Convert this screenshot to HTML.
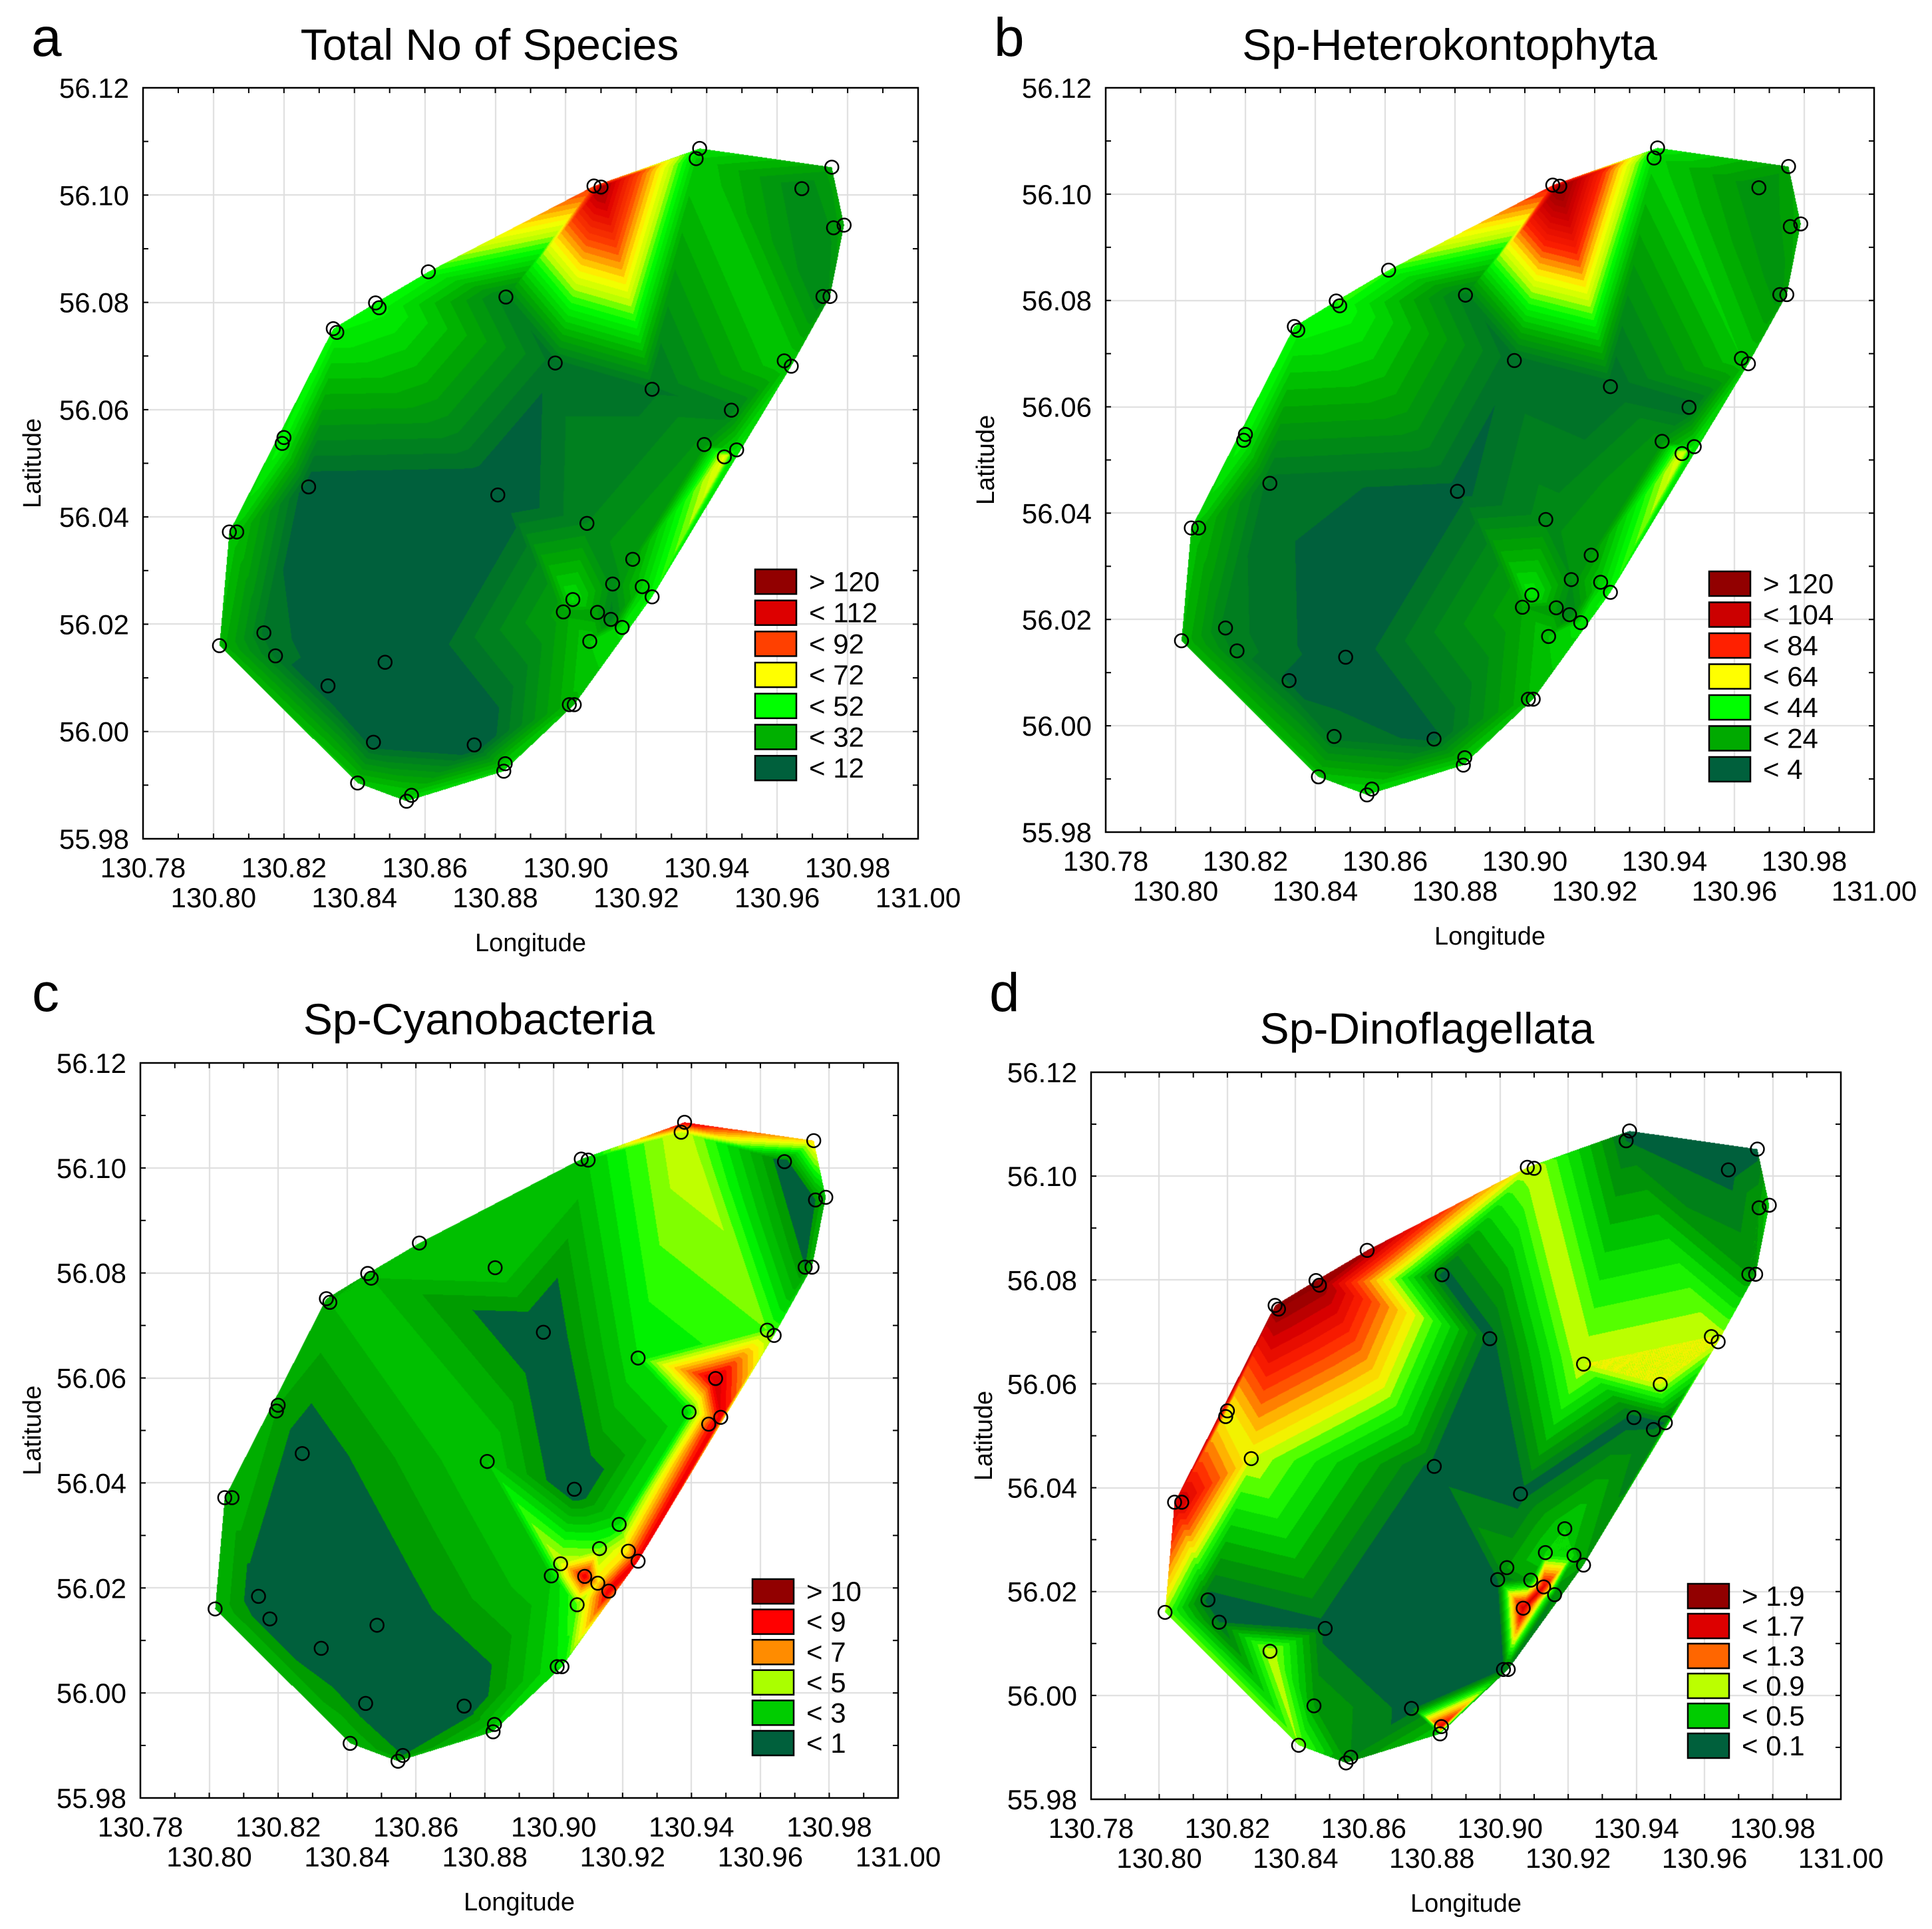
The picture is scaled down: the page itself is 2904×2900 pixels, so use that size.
<!DOCTYPE html>
<html><head><meta charset="utf-8">
<style>
html,body{margin:0;padding:0;background:#fff;}
#wrap{position:relative;width:2904px;height:2900px;overflow:hidden;font-family:"Liberation Sans",Arial,sans-serif;}
canvas{position:absolute;}
#ov{position:absolute;left:0;top:0;}
</style></head>
<body>
<div id="wrap">
<svg id="ov" width="2904" height="2900" xmlns="http://www.w3.org/2000/svg"></svg>
</div>
<script>
// ---- station data ----
const stationLon = [130.938,130.937,130.9755,130.967,130.908,130.910,130.976,130.979,130.861,130.883,
130.846,130.847,130.834,130.835,130.973,130.975,130.897,130.962,130.964,130.9245,
130.947,130.820,130.8195,130.9393,130.945,130.9485,130.827,130.8807,130.8045,130.8066,
130.906,130.919,130.9133,130.9217,130.9245,130.902,130.8993,130.909,130.9128,130.916,
130.9068,130.8017,130.8143,130.8176,130.8487,130.8325,130.901,130.9024,130.8454,130.874,
130.8828,130.8824,130.8409,130.8562,130.8548];
const stationLat = [56.1087,56.1068,56.1052,56.1012,56.1017,56.1015,56.0939,56.0944,56.0857,56.0810,
56.0799,56.0790,56.0751,56.0744,56.0811,56.0811,56.0687,56.0691,56.0681,56.0638,
56.0599,56.0548,56.0537,56.0535,56.0512,56.0525,56.0456,56.0441,56.0372,56.0372,
56.0388,56.0321,56.0275,56.0270,56.0251,56.0246,56.0223,56.0222,56.0209,56.0194,
56.0168,56.0160,56.0184,56.0141,56.0129,56.0085,56.0050,56.0050,55.9980,55.9975,
55.9940,55.9926,55.9904,55.9881,55.9870];
const totalSpecies = [45,40,30,20,95,125,25,32,52,18,
50,50,50,48,20,25,14,40,40,15,
18,50,50,25,70,45,8,5,40,38,
20,28,22,40,50,45,30,28,18,45,
40,35,15,15,2,5,35,35,8,5,
40,42,38,40,40];
const heteroSpecies = [40,34,22,16,88,125,22,28,45,10,
44,44,44,42,18,22,5,32,32,4,
5,42,42,18,60,38,6,2,32,30,
14,20,16,34,42,40,24,20,12,38,
32,28,10,10,0,3,28,28,6,3,
32,35,30,34,34];
const cyanoSpecies = [9,5,6,0.5,2,2.5,1,2,2,2.5,
2,2,1.5,2,1,2,0.3,4,4,3,
9.5,1.5,1.5,3,8,9,0.5,2.5,2,2,
0.3,3,4,6,9,5,2.5,9,6,9,
4,2,0.5,0.5,0.3,0.3,3,3,0.5,0.3,
2.5,2.5,2,1,2];
const dinoSpecies = [0.05,0.1,0.05,0.05,0.9,0.9,0.3,0.5,1.95,0.05,
2.0,2.0,2.0,2.0,0.3,0.3,0.05,0.9,0.9,0.9,
0.9,0.95,0.95,0.05,0.1,0.1,0.9,0.05,1.8,1.8,
0.05,0.5,0.5,0.5,0.3,0.3,0.1,0.3,1.7,0.2,
1.8,0.8,0.05,0.1,0.05,0.9,0.1,0.1,0.3,0.05,
1.7,0.5,0.8,0.2,0.2];
// legend labels
const legendA = ["> 120","< 112","< 92","< 72","< 52","< 32","< 12"];
const legendB = ["> 120","< 104","< 84","< 64","< 44","< 24","< 4"];
const legendC = ["> 10","< 9","< 7","< 5","< 3","< 1"];
const legendD = ["> 1.9","< 1.7","< 1.3","< 0.9","< 0.5","< 0.1"];
const xTicks = [130.78,130.80,130.82,130.84,130.86,130.88,130.90,130.92,130.94,130.96,130.98,131.00];
const yTicks = [55.98,56.00,56.02,56.04,56.06,56.08,56.10,56.12];

const NS="http://www.w3.org/2000/svg";
const svg=document.getElementById('ov');
const wrap=document.getElementById('wrap');
function mk(tag,attrs,parent){const e=document.createElementNS(NS,tag);for(const k in attrs)e.setAttribute(k,attrs[k]);(parent||svg).appendChild(e);return e;}
function hex(c){return [parseInt(c.substr(1,2),16),parseInt(c.substr(3,2),16),parseInt(c.substr(5,2),16)];}

const panels=[
 {id:'a',title:'Total No of Species',vals:totalSpecies,leg:legendA,
  legCols:['#920000','#dd0000','#ff4000','#ffff00','#00ff00','#00b000','#00603c'],
  L:215,R:1380,T:132,B:1261,letterX:47,letterY:84,titleX:736,titleY:90,latX:48,
  legX:1135,legY:856,legP:46.7,step:4,
  cmap:[[12,'#00603c'],[12.01,'#006e2c'],[32,'#00aa00'],[48,'#00f000'],[52,'#00ff00'],[62,'#bbff00'],[72,'#ffff00'],[92,'#ff4000'],[112,'#e00000'],[126,'#900000']]},
 {id:'b',title:'Sp-Heterokontophyta',vals:heteroSpecies,leg:legendB,
  legCols:['#920000','#cc0000','#ff2000','#ffff00','#00ff00','#00aa00','#00603c'],
  L:1662,R:2817,T:132,B:1251,letterX:1494,letterY:84,titleX:2179,titleY:90,latX:1481,
  legX:2569,legY:859,legP:46.5,step:4,
  cmap:[[4,'#00603c'],[4.01,'#006e2c'],[24,'#00a400'],[44,'#00ff00'],[54,'#bbff00'],[64,'#ffff00'],[84,'#ff2000'],[104,'#d00000'],[124,'#900000']]},
 {id:'c',title:'Sp-Cyanobacteria',vals:cyanoSpecies,leg:legendC,
  legCols:['#920000','#ff0000','#ff8c00','#aaff00','#00cc00','#00603c'],
  L:211,R:1350,T:1598,B:2703,letterX:48,letterY:1520,titleX:720,titleY:1555,latX:48,
  legX:1131,legY:2374,legP:45.6,step:0.5,
  cmap:[[1,'#00603c'],[1.01,'#009400'],[2.5,'#00c800'],[3.5,'#00ff00'],[4.5,'#aaff00'],[5.5,'#ffff00'],[7,'#ff8c00'],[8.5,'#ff0000'],[11,'#900000']]},
 {id:'d',title:'Sp-Dinoflagellata',vals:dinoSpecies,leg:legendD,
  legCols:['#920000','#dd0000','#ff6600','#bbff00','#00cc00','#00603c'],
  L:1640,R:2767,T:1612,B:2705,letterX:1487,letterY:1520,titleX:2145,titleY:1569,latX:1478,
  legX:2537,legY:2381,legP:45,step:0.1,
  cmap:[[0.1,'#00603c'],[0.11,'#007a20'],[0.3,'#009c00'],[0.5,'#00d000'],[0.7,'#22ff00'],[0.9,'#eeff00'],[1.1,'#ffcc00'],[1.3,'#ff6600'],[1.5,'#ff2000'],[1.75,'#d80000'],[2.0,'#900000']]}
];

function delaunay(P){
  const n=P.length;let minx=1e9,miny=1e9,maxx=-1e9,maxy=-1e9;
  P.forEach(p=>{minx=Math.min(minx,p[0]);miny=Math.min(miny,p[1]);maxx=Math.max(maxx,p[0]);maxy=Math.max(maxy,p[1]);});
  const d=Math.max(maxx-minx,maxy-miny)*20,mx=(minx+maxx)/2,my=(miny+maxy)/2;
  const pts=P.concat([[mx-d,my-d],[mx+d,my-d],[mx,my+d]]);
  function cc(t){const a=pts[t[0]],b=pts[t[1]],c=pts[t[2]];
    const D=2*(a[0]*(b[1]-c[1])+b[0]*(c[1]-a[1])+c[0]*(a[1]-b[1]));
    const ux=((a[0]*a[0]+a[1]*a[1])*(b[1]-c[1])+(b[0]*b[0]+b[1]*b[1])*(c[1]-a[1])+(c[0]*c[0]+c[1]*c[1])*(a[1]-b[1]))/D;
    const uy=((a[0]*a[0]+a[1]*a[1])*(c[0]-b[0])+(b[0]*b[0]+b[1]*b[1])*(a[0]-c[0])+(c[0]*c[0]+c[1]*c[1])*(b[0]-a[0]))/D;
    return [ux,uy,(a[0]-ux)**2+(a[1]-uy)**2];}
  let tris=[[n,n+1,n+2]];tris[0].c=cc(tris[0]);
  for(let i=0;i<n;i++){const p=pts[i];const bad=[],good=[];
    tris.forEach(t=>{const c=t.c;((p[0]-c[0])**2+(p[1]-c[1])**2<c[2])?bad.push(t):good.push(t);});
    const edges={};
    bad.forEach(t=>{[[t[0],t[1]],[t[1],t[2]],[t[2],t[0]]].forEach(e=>{const k=Math.min(e[0],e[1])+'_'+Math.max(e[0],e[1]);if(edges[k])edges[k].cnt++;else edges[k]={e:e,cnt:1};});});
    tris=good;
    for(const k in edges){if(edges[k].cnt===1){const t=[edges[k].e[0],edges[k].e[1],i];t.c=cc(t);tris.push(t);}}
  }
  return tris.filter(t=>t[0]<n&&t[1]<n&&t[2]<n);
}

panels.forEach(pn=>{
  const W=pn.R-pn.L,H=pn.B-pn.T;
  const sx=lon=>(lon-130.78)/0.22*W, sy=lat=>(56.12-lat)/0.14*H;
  const cv=document.createElement('canvas');cv.width=W;cv.height=H;
  cv.style.left=pn.L+'px';cv.style.top=pn.T+'px';
  
  
  wrap.insertBefore(cv,svg);
  const ctx=cv.getContext('2d');ctx.fillStyle='#fff';ctx.fillRect(0,0,W,H);
  ctx.strokeStyle='#dddddd';ctx.lineWidth=2;
  xTicks.forEach(t=>{const x=Math.round(sx(t));ctx.beginPath();ctx.moveTo(x,0);ctx.lineTo(x,H);ctx.stroke();});
  yTicks.forEach(t=>{const y=Math.round(sy(t));ctx.beginPath();ctx.moveTo(0,y);ctx.lineTo(W,y);ctx.stroke();});
  const img=ctx.getImageData(0,0,W,H),data=img.data;
  const P=stationLon.map((lo,i)=>[sx(lo),sy(stationLat[i])]);
  const V=pn.vals;
  const cm=pn.cmap.map(a=>[a[0],hex(a[1])]);
  function color(v){
    const q=Math.floor(v/pn.step)*pn.step+pn.step*0.5;
    if(q<=cm[0][0])return cm[0][1];
    for(let i=1;i<cm.length;i++){if(q<=cm[i][0]){const f=(q-cm[i-1][0])/(cm[i][0]-cm[i-1][0]);const a=cm[i-1][1],b=cm[i][1];return [a[0]+(b[0]-a[0])*f,a[1]+(b[1]-a[1])*f,a[2]+(b[2]-a[2])*f];}}
    return cm[cm.length-1][1];
  }
  const tris=delaunay(P);
  tris.forEach(t=>{
    const a=P[t[0]],b=P[t[1]],c=P[t[2]];
    const va=V[t[0]],vb=V[t[1]],vc=V[t[2]];
    const den=(b[1]-c[1])*(a[0]-c[0])+(c[0]-b[0])*(a[1]-c[1]);if(Math.abs(den)<1e-9)return;
    const x0=Math.max(0,Math.floor(Math.min(a[0],b[0],c[0]))),x1=Math.min(W-1,Math.ceil(Math.max(a[0],b[0],c[0])));
    const y0=Math.max(0,Math.floor(Math.min(a[1],b[1],c[1]))),y1=Math.min(H-1,Math.ceil(Math.max(a[1],b[1],c[1])));
    for(let y=y0;y<=y1;y++)for(let x=x0;x<=x1;x++){
      const px=x+0.5,py=y+0.5;
      const l1=((b[1]-c[1])*(px-c[0])+(c[0]-b[0])*(py-c[1]))/den;
      const l2=((c[1]-a[1])*(px-c[0])+(a[0]-c[0])*(py-c[1]))/den;
      const l3=1-l1-l2;
      if(l1<-1e-6||l2<-1e-6||l3<-1e-6)continue;
      const col=color(l1*va+l2*vb+l3*vc);const k=(y*W+x)*4;
      data[k]=col[0];data[k+1]=col[1];data[k+2]=col[2];data[k+3]=255;
    }
  });
  ctx.putImageData(img,0,0);

  const g=mk('g',{});
  
  
  const fr=mk('rect',{x:pn.L,y:pn.T,width:W,height:H,fill:'none',stroke:'#000','stroke-width':2.5},g);
  
  
  for(let i=0;i<=22;i++){const x=pn.L+sx(130.78+i*0.01);
    mk('line',{x1:x,x2:x,y1:pn.B,y2:pn.B-8,stroke:'#000','stroke-width':2},g);
    mk('line',{x1:x,x2:x,y1:pn.T,y2:pn.T+8,stroke:'#000','stroke-width':2},g);}
  for(let i=0;i<=14;i++){const y=pn.T+sy(55.98+i*0.01);
    mk('line',{x1:pn.L,x2:pn.L+8,y1:y,y2:y,stroke:'#000','stroke-width':2},g);
    mk('line',{x1:pn.R,x2:pn.R-8,y1:y,y2:y,stroke:'#000','stroke-width':2},g);}
  xTicks.forEach((t,i)=>{const tx=mk('text',{x:pn.L+sx(t),y:pn.B+(i%2===0?58:103),'font-size':42,'text-anchor':'middle',fill:'#000'},g);
    tx.textContent=t.toFixed(2);
    
    });
  yTicks.forEach(t=>{const ty=mk('text',{x:pn.L-21,y:pn.T+sy(t)+15,'font-size':42,'text-anchor':'end',fill:'#000'},g);
    ty.textContent=t.toFixed(2);
    
    });
  const xl=mk('text',{x:(pn.L+pn.R)/2,y:pn.B+169,'font-size':38,'text-anchor':'middle',fill:'#000'},g);
  xl.textContent='Longitude';
  
  
  const cyl=(pn.T+pn.B)/2;
  const yl=mk('text',{x:pn.latX+13,y:cyl,'font-size':38,'text-anchor':'middle',fill:'#000',transform:'rotate(-90 '+(pn.latX+13)+' '+cyl+')'},g);
  yl.textContent='Latitude';
  
  
  const ti=mk('text',{x:pn.titleX,y:pn.titleY,'font-size':66,'text-anchor':'middle',fill:'#000'},g);
  ti.textContent=pn.title;
  
  
  const le=mk('text',{x:pn.letterX,y:pn.letterY,'font-size':82,fill:'#000'},g);
  le.textContent=pn.id;
  
  
  P.forEach(p=>{const c=mk('circle',{cx:pn.L+p[0],cy:pn.T+p[1],r:10,fill:'none',stroke:'#000','stroke-width':2.5},g);
    
    });
  pn.leg.forEach((lab,i)=>{const y=pn.legY+i*pn.legP;
    const r=mk('rect',{x:pn.legX,y:y,width:62,height:37,fill:pn.legCols[i],stroke:'#000','stroke-width':2.5},g);
    
    
    const t=mk('text',{x:pn.legX+81,y:y+33,'font-size':42,fill:'#000'},g);
    t.textContent=lab;
    
    });
});
</script>
</body></html>
